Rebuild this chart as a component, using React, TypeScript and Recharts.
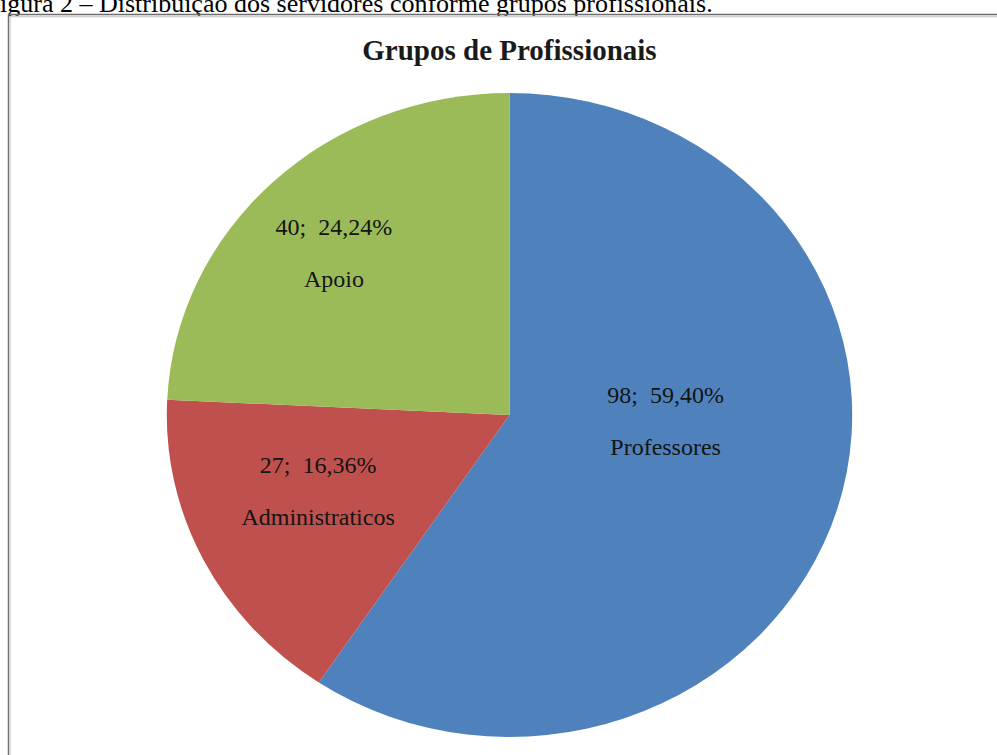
import React from 'react';
import { PieChart, Pie, Cell } from 'recharts';

const CATEGORIES = ['Professores', 'Administraticos', 'Apoio'];
const VALUES = [98, 27, 40];
const PERCENT_LABELS = ['59,40', '16,36', '24,24'];
const COLORS = ['#4F81BD', '#C0504D', '#9BBB59'];

const TITLE = 'Grupos de Profissionais';
const CAPTION = 'igura 2 – Distribuição dos servidores conforme grupos profissionais.';

// label placement relative to each slice (fraction of radius, angular shift from mid-angle)
const LABEL_RADIUS = [0.456, 0.607, 0.719];
const LABEL_SHIFT = [14.4, -3.7, 1.8];

const data = CATEGORIES.map((name, i) => ({ name, value: VALUES[i] }));

const RX = 342.7;
const RY = 322;
const S = RY / RX;
const RAD = Math.PI / 180;
const FONT = '"Liberation Serif", "Times New Roman", serif';

const renderLabel = (props: any) => {
  const { cx, cy, midAngle, outerRadius, index } = props;
  const ang = midAngle + LABEL_SHIFT[index];
  const r = outerRadius * LABEL_RADIUS[index];
  const x = cx + r * Math.cos(-ang * RAD);
  const y = cy + r * Math.sin(-ang * RAD);
  return (
    <g transform={`translate(${x},${y}) scale(1,${1 / S})`}>
      <text
        x={0}
        y={-26}
        textAnchor="middle"
        dominantBaseline="central"
        fontFamily={FONT}
        fontSize={24}
        fill="#141414"
      >
        {`${VALUES[index]};\u00A0\u00A0${PERCENT_LABELS[index]}%`}
      </text>
      <text
        x={0}
        y={26}
        textAnchor="middle"
        dominantBaseline="central"
        fontFamily={FONT}
        fontSize={24}
        fill="#141414"
      >
        {CATEGORIES[index]}
      </text>
    </g>
  );
};

export default function App() {
  return (
    <div
      style={{
        position: 'fixed',
        left: 0,
        top: 0,
        width: 997,
        height: 755,
        overflow: 'hidden',
        background: '#fff',
      }}
    >
      <div
        style={{
          position: 'absolute',
          left: 0,
          top: 0,
          transform: `scaleY(${S})`,
          transformOrigin: '0 0',
        }}
      >
        <PieChart
          width={997}
          height={Math.round(755 / S)}
          margin={{ top: 0, right: 0, bottom: 0, left: 0 }}
        >
          <Pie
            data={data}
            dataKey="value"
            nameKey="name"
            cx={509.5}
            cy={415 / S}
            outerRadius={RX}
            startAngle={90}
            endAngle={-270}
            stroke="none"
            isAnimationActive={false}
            labelLine={false}
            label={renderLabel}
          >
            {data.map((d, i) => (
              <Cell key={d.name} fill={COLORS[i]} />
            ))}
          </Pie>
        </PieChart>
      </div>
      <svg
        width={997}
        height={755}
        style={{ position: 'absolute', left: 0, top: 0, pointerEvents: 'none' }}
      >
        <text x={0} y={12} fontFamily={FONT} fontSize={26} fill="#000">
          {CAPTION}
        </text>
        <line x1={8.5} y1={14.5} x2={997} y2={14.5} stroke="#6e6e6e" strokeWidth={1.5} />
        <line x1={8.5} y1={14.5} x2={8.5} y2={755} stroke="#6e6e6e" strokeWidth={1.5} />
        <line x1={10} y1={16.5} x2={997} y2={16.5} stroke="#d0d0d0" strokeWidth={1.5} />
        <line x1={10.5} y1={16} x2={10.5} y2={755} stroke="#d8d8d8" strokeWidth={1} />
        <text
          x={509.5}
          y={50}
          textAnchor="middle"
          dominantBaseline="central"
          fontFamily={FONT}
          fontSize={29}
          fontWeight="bold"
          fill="#1a1a1a"
        >
          {TITLE}
        </text>
      </svg>
    </div>
  );
}
